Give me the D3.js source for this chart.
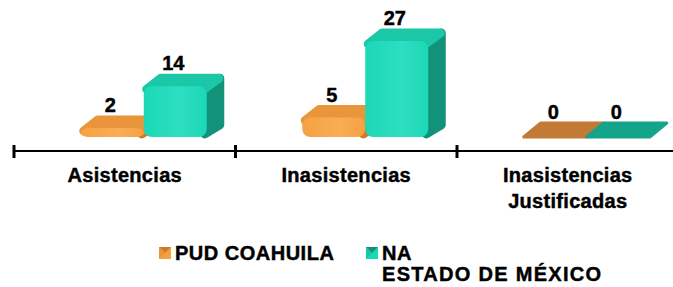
<!DOCTYPE html>
<html>
<head>
<meta charset="utf-8" />
<title>Asistencias</title>
<script src="https://cdn.jsdelivr.net/npm/d3@7/dist/d3.min.js"></script>
<style>
body { margin:0; background:#fff; }
text { font-family:Arial, "Liberation Sans", sans-serif; font-weight:bold; fill:#000; stroke:#000; stroke-width:0.45px; }
</style>
</head>
<body>
<div id="chart"></div>
<script>
// data
const categories = ["Asistencias", "Inasistencias", "Inasistencias|Justificadas"];
const seriesNames = ["PUD COAHUILA", "NA|ESTADO DE MÉXICO"];
const pudCoahuila = [2, 5, 0];
const naEdoMex = [14, 27, 0];

const width = 673, height = 287;
const dx = 17, dy = -14; // 3d depth

const colors = [
	{front:"#F6A042", light:"#F9AE55", top:"#E8953C", side:"#CC7A2C", flat:"#C27A36"},
	{front:"#1BD8B6", light:"#2EDEC0", top:"#1AC8A7", side:"#13927A", flat:"#14A489"}
];

const svg = d3.select("#chart").append("svg")
	.attr("width", width)
	.attr("height", height);

const defs = svg.append("defs");
colors.forEach(function(c, i){
	const g = defs.append("linearGradient").attr("id", "fg" + i)
		.attr("x1", "0").attr("x2", "1").attr("y1", "0").attr("y2", "0");
	g.append("stop").attr("offset", "0").attr("stop-color", c.front);
	g.append("stop").attr("offset", "0.6").attr("stop-color", c.light);
	g.append("stop").attr("offset", "1").attr("stop-color", c.front);
});

const x0 = d3.scaleBand().domain(categories).range([14, 678.5]);
const x1 = d3.scaleBand().domain(seriesNames).range([-44, 82]);
const y = d3.scaleLinear().domain([0, 30]).range([137, 32.6]);

// axis
const axis = svg.append("g").attr("transform", "translate(0,151)");
axis.append("line").attr("x1", 14).attr("x2", width).attr("stroke", "#000").attr("stroke-width", 2);
axis.selectAll("line.tick")
	.data(categories)
	.enter().append("line")
	.attr("class", "tick")
	.attr("x1", d => x0(d)).attr("x2", d => x0(d))
	.attr("y1", -6).attr("y2", 7)
	.attr("stroke", "#000").attr("stroke-width", 3);

// category labels
categories.forEach(function(cat){
	const cx = x0(cat) + x0.bandwidth() / 2;
	const t = svg.append("text")
		.attr("x", cx).attr("y", 182)
		.attr("text-anchor", "middle")
		.attr("font-size", 20)
		.attr("letter-spacing", 0.3);
	cat.split("|").forEach(function(line, i){
		t.append("tspan").attr("x", cx).attr("dy", i ? 26 : 0).text(line);
	});
});

// bars
const data = [];
categories.forEach(function(cat, ci){
	[pudCoahuila, naEdoMex].forEach(function(vals, si){
		data.push({cat: cat, s: si, name: seriesNames[si], v: vals[ci]});
	});
});

const bw = x1.bandwidth();
const bars = svg.append("g");
data.forEach(function(d){
	const c = colors[d.s];
	const bx = x0(d.cat) + x0.bandwidth() / 2 + x1(d.name);
	const by = y(d.v);
	const b0 = y(0);
	const g = bars.append("g");
	if (d.v === 0) {
		g.append("path")
			.attr("d", "M" + bx + "," + b0 + "L" + (bx + bw) + "," + b0 + "L" + (bx + bw + dx) + "," + (b0 + dy) +
				"L" + (bx + dx) + "," + (b0 + dy) + "Z")
			.attr("fill", c.flat).attr("stroke", c.flat).attr("stroke-width", 3).attr("stroke-linejoin", "round");
	} else {
		// side
		g.append("path")
			.attr("d", "M" + (bx + bw - 2) + "," + (b0 - 3) + "L" + (bx + bw - 2) + "," + (by + 2) + "L" + (bx + bw + dx - 4) + "," + (by + dy + 4) +
				"L" + (bx + bw + dx - 4) + "," + (b0 + dy + 2) + "Z")
			.attr("fill", c.side).attr("stroke", c.side).attr("stroke-width", 9).attr("stroke-linejoin", "round");
		// top
		g.append("path")
			.attr("d", "M" + (bx + 3) + "," + (by + 1) + "L" + (bx + bw - 3) + "," + (by + 1) + "L" + (bx + bw + dx - 5) + "," + (by + dy + 4) +
				"L" + (bx + dx) + "," + (by + dy + 4) + "Z")
			.attr("fill", c.top).attr("stroke", c.top).attr("stroke-width", 9).attr("stroke-linejoin", "round");
		// front
		g.append("rect")
			.attr("x", bx).attr("y", by - 2)
			.attr("width", bw).attr("height", b0 - by + 2)
			.attr("rx", 8)
			.attr("fill", "url(#fg" + d.s + ")");
	}
	svg.append("text")
		.attr("x", bx + bw / 2 - 2)
		.attr("y", by + dy - 4)
		.attr("text-anchor", "middle")
		.attr("font-size", 20)
		.text(d.v);
});

// legend
const legendX = [159, 366];
seriesNames.forEach(function(name, i){
	const c = colors[i];
	const lg = svg.append("g").attr("transform", "translate(" + legendX[i] + ",247)");
	lg.append("rect").attr("width", 12).attr("height", 12).attr("fill", c.front);
	lg.append("path").attr("d", "M0,0L12,0L6,6Z").attr("fill", c.side);
	lg.append("path").attr("d", "M0,0L6,6L0,12Z").attr("fill", c.top);
	const t = lg.append("text").attr("x", 16).attr("y", 12.5).attr("font-size", 20);
	name.split("|").forEach(function(line, j){
		t.append("tspan").attr("x", 16).attr("dy", j ? 21 : 0)
			.attr("letter-spacing", j ? 1.3 : 0.5)
			.text(line);
	});
});
</script>
</body>
</html>
